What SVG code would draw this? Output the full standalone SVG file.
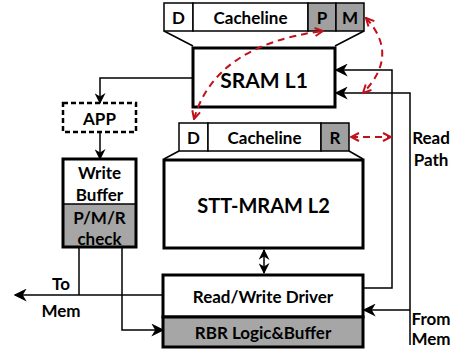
<svg xmlns="http://www.w3.org/2000/svg" width="450" height="350" viewBox="0 0 450 350">
<defs>
<style>
text{font-family:Lato,"Open Sans","Liberation Sans",sans-serif;font-weight:bold;fill:#000;text-anchor:middle;dominant-baseline:central}
.thin{fill:none;stroke:#000;stroke-width:1.5}
.cell{fill:#fff;stroke:#000;stroke-width:1.5}
.gcell{fill:#a0a0a0;stroke:#000;stroke-width:1.5}
.box{fill:#fff;stroke:#000;stroke-width:3}
.gbox{fill:#a6a6a6;stroke:#000;stroke-width:3}
.wire{fill:none;stroke:#000;stroke-width:1.5}
.red{fill:none;stroke:#c0101a;stroke-width:2;stroke-dasharray:7,5}
</style>
<marker id="ah" viewBox="0 0 10 10" refX="9" refY="5" markerWidth="11" markerHeight="11" markerUnits="userSpaceOnUse" orient="auto-start-reverse"><path d="M0,0L10,5L0,10L3,5z" fill="#000"/></marker>
<marker id="ah2" viewBox="0 0 10 10" refX="9" refY="5" markerWidth="13" markerHeight="13" markerUnits="userSpaceOnUse" orient="auto-start-reverse"><path d="M0,0L10,5L0,10L3,5z" fill="#000"/></marker>
<marker id="rh" viewBox="0 0 10 10" refX="9" refY="5" markerWidth="10" markerHeight="10" markerUnits="userSpaceOnUse" orient="auto-start-reverse"><path d="M1,1L9,5L1,9" fill="none" stroke="#c0101a" stroke-width="2"/></marker>
</defs>

<g id="l1-cacheline">
<rect class="cell" x="164" y="3" width="29" height="28"/>
<rect class="cell" x="193" y="3" width="115" height="28"/>
<rect class="gcell" x="308" y="3" width="28" height="28"/>
<rect class="gcell" x="336" y="3" width="28" height="28"/>
<text x="178.5" y="17" font-size="17">D</text>
<text x="250.5" y="17" font-size="17">Cacheline</text>
<text x="322" y="17" font-size="17">P</text>
<text x="350" y="17" font-size="17">M</text>
<path class="thin" d="M164,31L193,46M364,31L335,46"/>
</g>

<g id="sram-l1">
<rect class="box" x="193" y="48" width="142" height="59"/>
<text x="264" y="79" font-size="21">SRAM L1</text>
</g>

<g id="l2-cacheline">
<rect class="cell" x="179" y="123" width="29" height="28"/>
<rect class="cell" x="208" y="123" width="113" height="28"/>
<rect class="gcell" x="321" y="123" width="28" height="28"/>
<text x="193.5" y="137" font-size="17">D</text>
<text x="264.5" y="137" font-size="17">Cacheline</text>
<text x="335" y="137" font-size="17">R</text>
<path class="thin" d="M179,151L164,159M349,151L363,159"/>
</g>

<g id="stt-mram-l2">
<rect class="box" x="164" y="160" width="199" height="88"/>
<text x="263.5" y="205" font-size="20">STT-MRAM L2</text>
</g>

<g id="app">
<rect x="63" y="103" width="73" height="29" fill="#fff" stroke="#000" stroke-width="2.5" stroke-dasharray="5,3"/>
<text x="99.5" y="118" font-size="17">APP</text>
</g>

<g id="write-buffer">
<rect x="63" y="159" width="73" height="88" fill="#fff" stroke="none"/>
<rect x="63" y="204" width="73" height="43" fill="#a6a6a6"/>
<rect x="63" y="159" width="73" height="88" fill="none" stroke="#000" stroke-width="3"/>
<line x1="63" y1="204" x2="136" y2="204" stroke="#000" stroke-width="1.5"/>
<text x="99.5" y="172" font-size="17">Write</text>
<text x="99.5" y="194" font-size="17">Buffer</text>
<text x="99.5" y="217" font-size="17">P/M/R</text>
<text x="99.5" y="238" font-size="17">check</text>
</g>

<g id="rw-driver">
<rect class="box" x="163" y="275" width="200" height="42"/>
<text x="263" y="296" font-size="17">Read/Write Driver</text>
</g>

<g id="rbr">
<rect class="gbox" x="163" y="317" width="200" height="30"/>
<text x="263" y="332" font-size="17">RBR Logic&amp;Buffer</text>
</g>

<g id="labels">
<text x="61" y="283" font-size="17">To</text>
<text x="61" y="310" font-size="17">Mem</text>
<text x="431" y="137" font-size="17">Read</text>
<text x="431" y="159" font-size="17">Path</text>
<text x="431" y="318" font-size="17">From</text>
<text x="431" y="338" font-size="17">Mem</text>
</g>

<g id="connectors">
<path class="wire" d="M193,78H100V103" marker-end="url(#ah)"/>
<path class="wire" d="M100,132V159" marker-end="url(#ah)"/>
<path class="wire" d="M79,247V295"/>
<path class="wire" d="M163,295H15" marker-end="url(#ah2)"/>
<path class="wire" d="M122,247V330H163" marker-end="url(#ah2)"/>
<path class="wire" d="M264,250V273" marker-start="url(#ah)" marker-end="url(#ah)" stroke-width="2"/>
<path class="wire" d="M363,288H392V70H336" marker-end="url(#ah2)"/>
<path class="wire" d="M410,345V93H336" marker-end="url(#ah2)"/>
<path class="wire" d="M410,310H364" marker-end="url(#ah2)"/>
<path class="red" d="M194,119Q215,45 323,31" marker-start="url(#rh)" marker-end="url(#rh)"/>
<path class="red" d="M366,18Q400,55 363,93" marker-start="url(#rh)" marker-end="url(#rh)"/>
<path class="red" d="M351,137H391" marker-start="url(#rh)" marker-end="url(#rh)"/>
</g>
</svg>
